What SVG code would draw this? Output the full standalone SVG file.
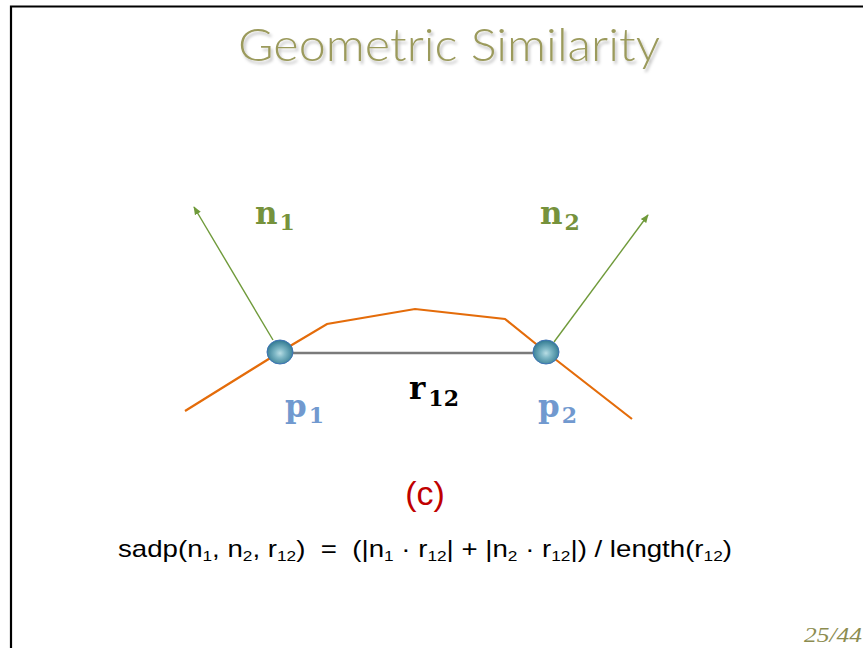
<svg xmlns="http://www.w3.org/2000/svg" width="863" height="648" viewBox="0 0 863 648">
<style>
.lbl{font-family:"DejaVu Serif","Liberation Serif",serif;font-weight:bold;font-size:31px}
.sub{font-size:22px}
.green{fill:#76923c}
.blue{fill:#7199cf}
.formula{font-family:"Liberation Sans",Arial,sans-serif;font-size:24px;fill:#000;white-space:pre}
.fsub{font-size:15px}
</style>
<defs>
<radialGradient id="ball" cx="0.5" cy="0.55" r="0.55">
<stop offset="0" stop-color="#b8dde4"/>
<stop offset="0.35" stop-color="#7fb8c6"/>
<stop offset="1" stop-color="#2f7890"/>
</radialGradient>
<marker id="arr" viewBox="0 0 10 10" refX="9" refY="5" markerWidth="6" markerHeight="6" orient="auto">
<path d="M0,1 L10,5 L0,9 z" fill="#6f9a3a"/>
</marker>
<filter id="shadow" x="-5%" y="-20%" width="110%" height="150%">
<feDropShadow dx="2" dy="3" stdDeviation="1.5" flood-color="#000" flood-opacity="0.25"/>
</filter>
</defs>
<rect width="863" height="648" fill="#fff"/>
<path d="M11,648 V6.5 H863" fill="none" stroke="#000" stroke-width="2.2"/>
<text x="449" y="61" text-anchor="middle" font-family="Lato,'Open Sans',sans-serif" font-weight="300" font-size="46" fill="#9b9a5c" textLength="422" lengthAdjust="spacingAndGlyphs" filter="url(#shadow)">Geometric Similarity</text>
<g id="connectors">
<polyline points="185,411 280,352 327,324 415,309 505,319 546,352 632,419" fill="none" stroke="#e46c0a" stroke-width="2.2"/>
<line x1="293" y1="353" x2="533" y2="353" stroke="#7a7a7a" stroke-width="2.5"/>
<line x1="273" y1="340" x2="194" y2="207" stroke="#6f9a3a" stroke-width="1.4" marker-end="url(#arr)"/>
<line x1="554" y1="342" x2="648" y2="215" stroke="#6f9a3a" stroke-width="1.4" marker-end="url(#arr)"/>
</g>
<g id="p1">
<ellipse cx="280" cy="352" rx="13" ry="12" fill="url(#ball)" stroke="#3d72b4" stroke-width="1"/>
</g>
<g id="p2">
<ellipse cx="546" cy="352" rx="13" ry="12" fill="url(#ball)" stroke="#3d72b4" stroke-width="1"/>
</g>
<g id="labels">
<text class="lbl green" x="255" y="224">n<tspan class="sub" dx="2" dy="6">1</tspan></text>
<text class="lbl green" x="540" y="224">n<tspan class="sub" dx="2" dy="6">2</tspan></text>
<text class="lbl blue" x="285" y="417">p<tspan class="sub" dx="2" dy="6">1</tspan></text>
<text class="lbl blue" x="538" y="417">p<tspan class="sub" dx="2" dy="6">2</tspan></text>
<text class="lbl" x="409" y="399" fill="#000">r<tspan class="sub" dx="3" dy="7">12</tspan></text>
</g>
<text x="425" y="505" text-anchor="middle" font-family="'Liberation Sans',Arial,sans-serif" font-size="34" fill="#c00000">(c)</text>
<text class="formula" x="118" y="557" textLength="614" lengthAdjust="spacingAndGlyphs">sadp(n<tspan class="fsub" dy="4">1</tspan><tspan dy="-4">, n</tspan><tspan class="fsub" dy="4">2</tspan><tspan dy="-4">, r</tspan><tspan class="fsub" dy="4">12</tspan><tspan dy="-4">)  =  (|n</tspan><tspan class="fsub" dy="4">1</tspan><tspan dy="-4"> · r</tspan><tspan class="fsub" dy="4">12</tspan><tspan dy="-4">| + |n</tspan><tspan class="fsub" dy="4">2</tspan><tspan dy="-4"> · r</tspan><tspan class="fsub" dy="4">12</tspan><tspan dy="-4">|) / length(r</tspan><tspan class="fsub" dy="4">12</tspan><tspan dy="-4">)</tspan></text>
<text x="804" y="642" font-family="'Liberation Serif',serif" font-style="italic" font-size="20" fill="#8c8c50" textLength="58" lengthAdjust="spacingAndGlyphs">25/44</text>
</svg>
